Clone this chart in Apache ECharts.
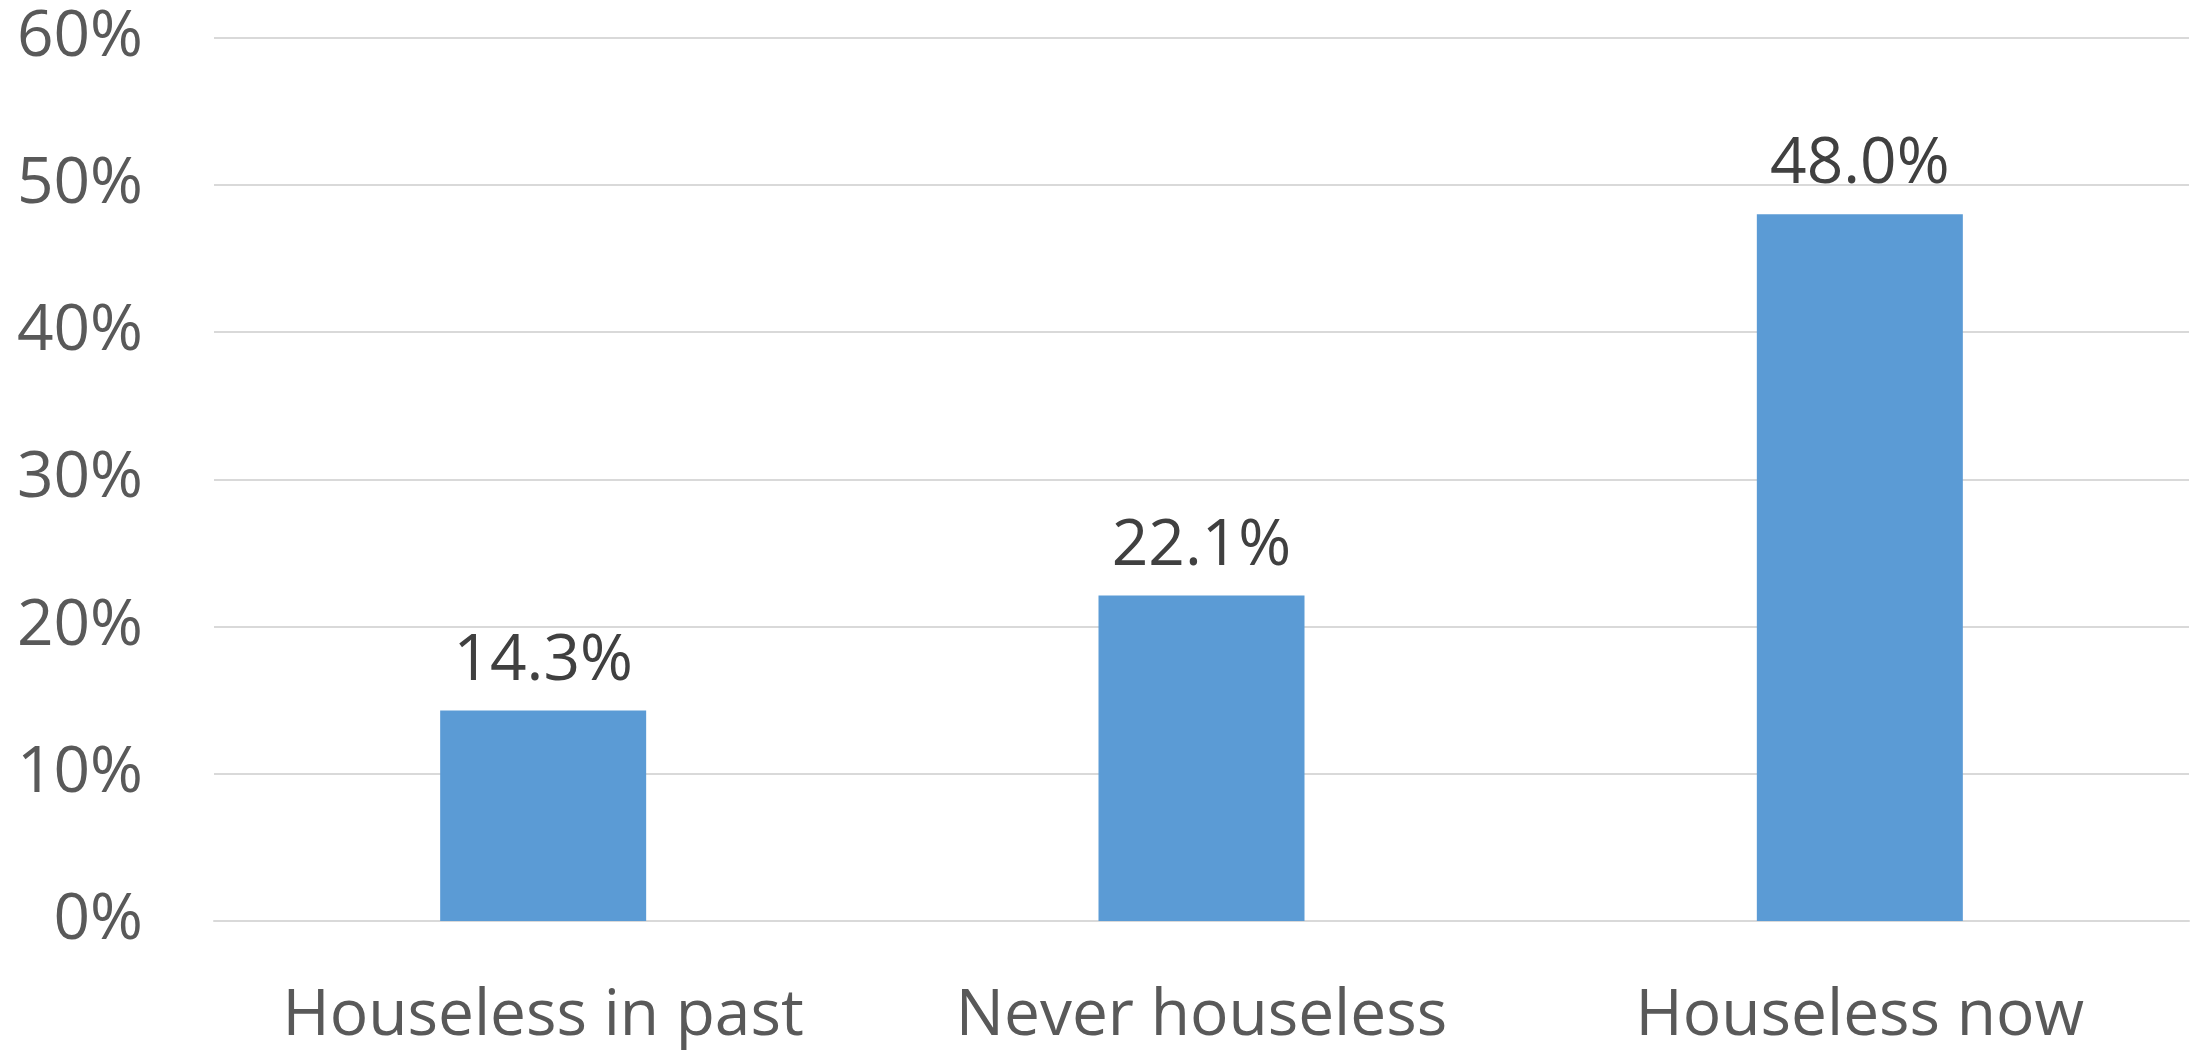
<!DOCTYPE html>
<html><head><meta charset="utf-8">
<script src="https://cdn.jsdelivr.net/npm/echarts@6/dist/echarts.min.js"></script>
<style>html,body{margin:0;padding:0;background:#fff}#c{width:2197px;height:1054px}</style>
</head><body><div id="c"></div>
<script>
const categories = ["Houseless in past", "Never houseless", "Houseless now"];
const values = [14.3, 22.1, 48.0];
const yTicks = [0, 10, 20, 30, 40, 50, 60];
const FONT = "Open Sans";
const chart = echarts.init(document.getElementById('c'));
chart.setOption({
  animation: false,
  grid: {left: 214, right: 8, top: 37.5, bottom: 133, containLabel: false},
  xAxis: {
    type: 'category', data: categories,
    axisLine: {show: true, lineStyle: {color: '#d9d9d9', width: 2}},
    axisTick: {show: false},
    axisLabel: {interval: 0, color: '#595959', fontFamily: FONT, fontSize: 64, margin: 64}
  },
  yAxis: {
    type: 'value', min: yTicks[0], max: yTicks[yTicks.length-1], interval: 10,
    axisLine: {show: false}, axisTick: {show: false},
    splitLine: {lineStyle: {color: '#d9d9d9', width: 2}},
    axisLabel: {color: '#595959', fontFamily: FONT, fontSize: 64, margin: 71, formatter: v => v + '%'}
  },
  series: [{
    type: 'bar', data: values, barWidth: 206,
    itemStyle: {color: '#5b9bd5'},
    label: {show: true, position: 'top', distance: 17, color: '#404040', fontFamily: FONT, fontSize: 64,
      formatter: p => p.value.toFixed(1) + '%'}
  }]
});
</script></body></html>
